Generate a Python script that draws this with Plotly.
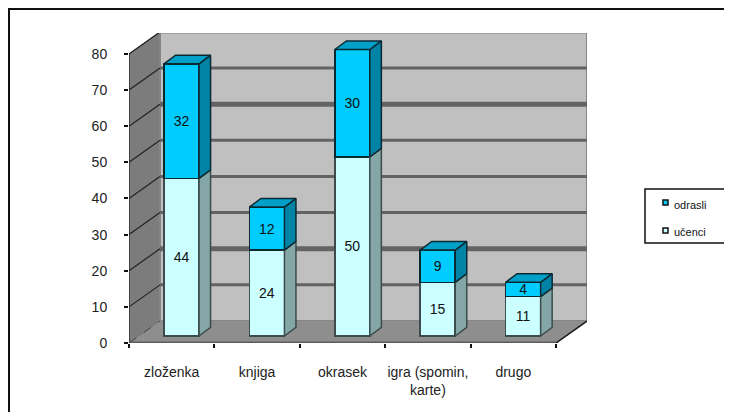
import plotly.graph_objects as go

categories = ["zloženka", "knjiga", "okrasek", "igra (spomin,<br>karte)", "drugo"]
ucenci = [44, 24, 50, 15, 11]
odrasli = [32, 12, 30, 9, 4]
y_ticks = [0, 10, 20, 30, 40, 50, 60, 70, 80]
grid_widths = [0, 3, 5, 3, 3, 3, 5, 3, 3]

FONT = "Liberation Sans"
# the page has an 8px body margin, so the figure is 8px short of the window
PAGE_W, PAGE_H, BODY = 732, 412, 8
LEFT, RIGHT, TOP, BOTTOM = 129, 587, 33, 343


# pixel position on the page -> paper fraction, for things outside the plot
def px(x):
    return (x - LEFT) / (RIGHT - LEFT)


def py(y):
    return (BOTTOM - y) / (BOTTOM - TOP)


x_range = [-0.5, 4.863]
y_range = [0, 85.8]
bar_range = [-1.955, 84.6]  # bars stand mid depth, so a slightly shifted scale
wall_dx, wall_dy = 0.363, 6.09
bar_shift, bar_width = 0.115, 0.41
depth_dx, depth_dy = 0.135, 2.4

fig = go.Figure()

shapes = []
# side wall, back wall, floor
shapes.append(dict(type="path", xref="x", yref="y", layer="below",
                   path=f"M -0.5 0 L -0.5 80 L {-0.5 + wall_dx} {80 + wall_dy} L {-0.5 + wall_dx} {wall_dy} Z",
                   fillcolor="#7c7c7c", line=dict(color="#666666", width=1)))
shapes.append(dict(type="rect", xref="x", yref="y", layer="below",
                   x0=-0.5 + wall_dx, x1=4.5 + wall_dx, y0=wall_dy, y1=80 + wall_dy,
                   fillcolor="#c0c0c0", line=dict(color="#858585", width=2)))
shapes.append(dict(type="path", xref="x", yref="y", layer="below",
                   path=f"M -0.5 0 L 4.5 0 L {4.5 + wall_dx} {wall_dy} L {-0.5 + wall_dx} {wall_dy} Z",
                   fillcolor="#8e8e8e", line=dict(width=0)))
# gridlines along both walls
for tick, width in zip(y_ticks, grid_widths):
    if tick == 0:
        shapes.append(dict(type="line", xref="x", yref="y", layer="below",
                           x0=-0.5, x1=-0.5 + wall_dx, y0=0, y1=wall_dy,
                           line=dict(color="#444444", width=1, dash="dash")))
        continue
    shapes.append(dict(type="line", xref="x", yref="y", layer="below",
                       x0=-0.5, x1=-0.5 + wall_dx, y0=tick, y1=tick + wall_dy,
                       line=dict(color="#222222", width=1.2)))
    shapes.append(dict(type="line", xref="x", yref="y", layer="below",
                       x0=-0.5 + wall_dx, x1=4.5 + wall_dx, y0=tick + wall_dy, y1=tick + wall_dy,
                       line=dict(color="#808080" if tick == 80 else "#636363", width=width)))
shapes.append(dict(type="line", xref="x", yref="y", layer="below",
                   x0=4.5, x1=4.5 + wall_dx, y0=0, y1=wall_dy,
                   line=dict(color="#111111", width=1.5)))
# axis edges, on top of the walls
shapes.append(dict(type="line", xref="x", yref="y", layer="below", x0=-0.5, x1=4.5, y0=0, y1=0,
                   line=dict(color="#5c5c5c", width=3)))
shapes.append(dict(type="line", xref="x", yref="y", layer="below", x0=-0.5, x1=-0.5, y0=0, y1=80,
                   line=dict(color="#333333", width=1.5)))
# page frame, runs off the right and bottom edges
shapes.append(dict(type="path", xref="paper", yref="paper",
                   path=f"M {px(9)} {py(412)} L {px(9)} {py(9)} L {px(732)} {py(9)}",
                   line=dict(color="#111111", width=2)))
# legend box and swatches
shapes.append(dict(type="rect", xref="paper", yref="paper",
                   x0=px(645), x1=px(725), y0=py(243), y1=py(189),
                   fillcolor="white", line=dict(color="#111111", width=1.5)))
for swatch_y, color in [(200, "#00ccff"), (228, "#ccffff")]:
    shapes.append(dict(type="rect", xref="paper", yref="paper",
                       x0=px(663), x1=px(668), y0=py(swatch_y + 5), y1=py(swatch_y),
                       fillcolor=color, line=dict(color="#111111", width=1.5)))

# side and top faces of each column
for series, side, top_face, edge in [
    (ucenci, "#84a6a6", None, "#3c4c4c"),
    (odrasli, "#0083a5", "#00a0c8", "#0a2a33"),
]:
    for i, value in enumerate(series):
        bottom = ucenci[i] if series is odrasli else 0
        top = bottom + value
        left = i + bar_shift - bar_width / 2
        right = i + bar_shift + bar_width / 2
        fig.add_trace(go.Scatter(
            x=[right, right + depth_dx, right + depth_dx, right, right],
            y=[bottom, bottom + depth_dy, top + depth_dy, top, bottom],
            yaxis="y2", mode="lines", fill="toself", fillcolor=side,
            line=dict(color=edge, width=1.5), hoverinfo="skip", showlegend=False,
        ))
        if top_face:
            fig.add_trace(go.Scatter(
                x=[left, left + depth_dx, right + depth_dx, right, left],
                y=[top, top + depth_dy, top + depth_dy, top, top],
                yaxis="y2", mode="lines", fill="toself", fillcolor=top_face,
                line=dict(color=edge, width=1.5), hoverinfo="skip", showlegend=False,
            ))

positions = [i + bar_shift for i in range(len(categories))]
fig.add_trace(go.Bar(
    x=positions, y=ucenci, name="učenci", yaxis="y2", width=bar_width,
    marker=dict(color="#ccffff", line=dict(color="#3c4c4c", width=1.5)),
    text=ucenci, textposition="inside", insidetextanchor="middle", textangle=0,
    constraintext="none", textfont=dict(family=FONT, size=14, color="#111111"),
))
fig.add_trace(go.Bar(
    x=positions, y=odrasli, name="odrasli", yaxis="y2", width=bar_width,
    marker=dict(color="#00ccff", line=dict(color="#0a2a33", width=1.5)),
    text=odrasli, textposition="inside", insidetextanchor="middle", textangle=0,
    constraintext="none", textfont=dict(family=FONT, size=14, color="#111111"),
))

annotations = [
    dict(text=label, xref="paper", yref="paper", x=px(672), y=py(y), xanchor="left", yanchor="middle",
         showarrow=False, font=dict(family=FONT, size=11, color="#111111"))
    for label, y in [("odrasli", 205), ("učenci", 232)]
]

fig.update_layout(
    width=PAGE_W - BODY, height=PAGE_H - BODY,
    margin=dict(l=LEFT - BODY, r=PAGE_W - RIGHT, t=TOP - BODY, b=PAGE_H - BOTTOM, pad=0),
    paper_bgcolor="white", plot_bgcolor="white",
    barmode="stack", showlegend=False,
    shapes=shapes, annotations=annotations,
    font=dict(family=FONT, size=14, color="#111111"),
    xaxis=dict(
        range=x_range, tickvals=list(range(len(categories))), ticktext=categories,
        ticks="", ticklabelstandoff=19, showgrid=False, zeroline=False,
        showline=False, tickfont=dict(family=FONT, size=14, color="#222222"),
        minor=dict(tickvals=[-0.5, 0.5, 1.5, 2.5, 3.5, 4.5], ticks="outside",
                   ticklen=4, tickwidth=1.5, tickcolor="#111111", showgrid=False),
    ),
    yaxis=dict(
        range=y_range, tickvals=y_ticks, ticks="outside", ticklen=4, tickwidth=1.5,
        tickcolor="#111111", ticklabelstandoff=14, showgrid=False, zeroline=False,
        showline=False, tickfont=dict(family=FONT, size=14, color="#222222"),
    ),
    yaxis2=dict(range=bar_range, overlaying="y", visible=False),
)

fig.write_html("out.html")
